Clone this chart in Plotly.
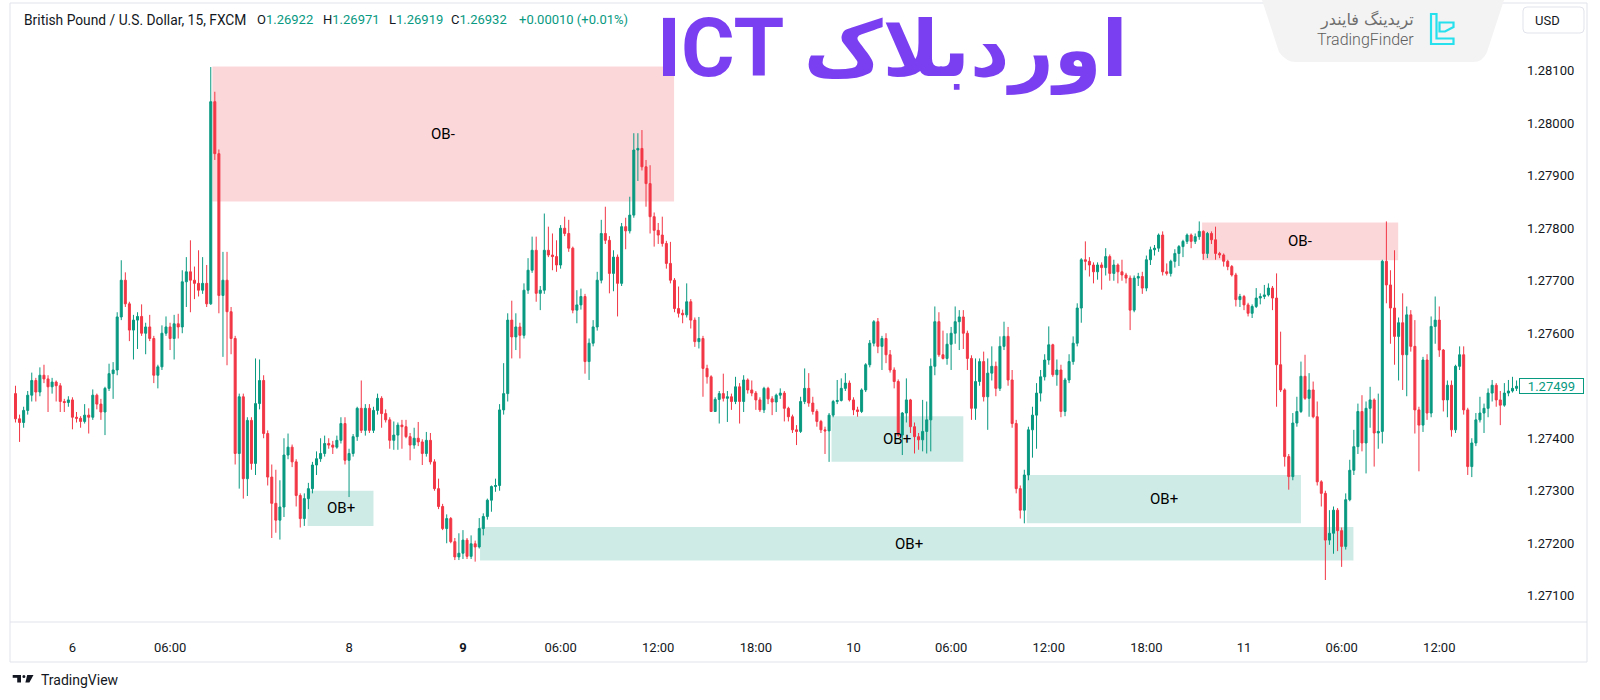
import plotly.graph_objects as go

# ---------------- data (GBP/USD 15m) ----------------
open_ = [
1.27485,1.27437,1.27430,1.27453,1.27482,1.27510,1.27488,1.27520,1.27513,1.27498,
1.27507,1.27500,1.27470,1.27468,1.27473,1.27440,1.27438,1.27432,1.27444,1.27440,
1.27482,1.27465,1.27450,1.27495,1.27523,1.27530,1.27631,1.27701,1.27656,1.27606,
1.27625,1.27632,1.27600,1.27612,1.27590,1.27520,1.27536,1.27600,1.27612,1.27590,
1.27618,1.27612,1.27698,1.27717,1.27701,1.27695,1.27682,1.27695,1.27656,1.28041,
1.27942,1.27672,1.27701,1.27641,1.27590,1.27371,1.27479,1.27323,1.27434,1.27352,
1.27466,1.27510,1.27409,1.27326,1.27276,1.27244,1.27269,1.27368,1.27383,1.27355,
1.27291,1.27247,1.27285,1.27304,1.27349,1.27361,1.27371,1.27390,1.27387,1.27383,
1.27396,1.27428,1.27358,1.27371,1.27403,1.27457,1.27415,1.27457,1.27415,1.27453,
1.27476,1.27447,1.27435,1.27396,1.27406,1.27425,1.27422,1.27403,1.27387,1.27400,
1.27393,1.27371,1.27396,1.27355,1.27304,1.27270,1.27228,1.27247,1.27203,1.27174,
1.27181,1.27206,1.27175,1.27199,1.27193,1.27228,1.27251,1.27282,1.27308,1.27310,
1.27454,1.27485,1.27625,1.27593,1.27612,1.27596,1.27682,1.27720,1.27758,1.27676,
1.27682,1.27758,1.27749,1.27746,1.27730,1.27800,1.27790,1.27762,1.27644,1.27654,
1.27670,1.27546,1.27581,1.27612,1.27701,1.27790,1.27777,1.27714,1.27745,1.27695,
1.27803,1.27795,1.27825,1.27949,1.27952,1.27917,1.27885,1.27822,1.27796,1.27787,
1.27771,1.27733,1.27701,1.27647,1.27638,1.27635,1.27660,1.27625,1.27584,1.27590,
1.27533,1.27517,1.27451,1.27474,1.27485,1.27476,1.27479,1.27470,1.27498,1.27470,
1.27511,1.27492,1.27486,1.27473,1.27454,1.27495,1.27475,1.27469,1.27482,1.27486,
1.27457,1.27441,1.27416,1.27413,1.27470,1.27495,1.27467,1.27451,1.27432,1.27416,
1.27414,1.27444,1.27470,1.27472,1.27495,1.27505,1.27473,1.27454,1.27451,1.27492,
1.27540,1.27581,1.27622,1.27575,1.27590,1.27559,1.27530,1.27508,1.27406,1.27448,
1.27473,1.27422,1.27403,1.27397,1.27413,1.27435,1.27537,1.27622,1.27559,1.27552,
1.27579,1.27600,1.27622,1.27631,1.27600,1.27552,1.27457,1.27508,1.27546,1.27479,
1.27524,1.27537,1.27495,1.27575,1.27594,1.27511,1.27428,1.27304,1.27263,1.27330,
1.27416,1.27444,1.27486,1.27517,1.27549,1.27578,1.27521,1.27530,1.27451,1.27511,
1.27546,1.27581,1.27648,1.27740,1.27737,1.27730,1.27717,1.27730,1.27725,1.27746,
1.27714,1.27730,1.27717,1.27711,1.27705,1.27644,1.27705,1.27708,1.27686,1.27740,
1.27759,1.27762,1.27787,1.27717,1.27714,1.27737,1.27752,1.27765,1.27775,1.27787,
1.27775,1.27784,1.27794,1.27752,1.27790,1.27778,1.27752,1.27749,1.27737,1.27727,
1.27711,1.27664,1.27670,1.27654,1.27638,1.27651,1.27667,1.27670,1.27673,1.27686,
1.27667,1.27540,1.27492,1.27365,1.27327,1.27429,1.27451,1.27518,1.27476,1.27492,
1.27441,1.27317,1.27295,1.27206,1.27219,1.27263,1.27224,1.27194,1.27283,1.27339,
1.27384,1.27451,1.27391,1.27457,1.27473,1.27410,1.27413,1.27737,1.27692,1.27648,
1.27594,1.27620,1.27559,1.27635,1.27575,1.27454,1.27425,1.27549,1.27448,1.27613,
1.27625,1.27568,1.27473,1.27501,1.27416,1.27537,1.27559,1.27454,1.27346,1.27391,
1.27435,1.27448,1.27457,1.27486,1.27501,1.27473,1.27463,1.27486,1.27490,1.27495,
]
high = [
1.27500,1.27445,1.27460,1.27490,1.27525,1.27515,1.27535,1.27540,1.27520,1.27515,
1.27510,1.27505,1.27475,1.27480,1.27478,1.27450,1.27442,1.27465,1.27457,1.27493,
1.27485,1.27475,1.27498,1.27542,1.27545,1.27640,1.27739,1.27716,1.27660,1.27635,
1.27640,1.27655,1.27620,1.27635,1.27595,1.27540,1.27615,1.27632,1.27620,1.27635,
1.27637,1.27720,1.27745,1.27777,1.27727,1.27758,1.27745,1.27730,1.28107,1.28060,
1.27950,1.27755,1.27755,1.27650,1.27595,1.27485,1.27485,1.27440,1.27440,1.27552,
1.27550,1.27520,1.27415,1.27350,1.27340,1.27320,1.27400,1.27409,1.27388,1.27360,
1.27295,1.27295,1.27315,1.27355,1.27375,1.27400,1.27405,1.27400,1.27395,1.27405,
1.27440,1.27440,1.27380,1.27408,1.27460,1.27510,1.27465,1.27465,1.27460,1.27485,
1.27480,1.27455,1.27440,1.27432,1.27430,1.27435,1.27435,1.27410,1.27420,1.27431,
1.27398,1.27412,1.27410,1.27360,1.27323,1.27275,1.27255,1.27250,1.27210,1.27219,
1.27225,1.27210,1.27215,1.27205,1.27248,1.27257,1.27285,1.27310,1.27323,1.27465,
1.27543,1.27638,1.27662,1.27638,1.27620,1.27695,1.27743,1.27784,1.27784,1.27690,
1.27828,1.27803,1.27790,1.27777,1.27806,1.27822,1.27816,1.27765,1.27682,1.27685,
1.27675,1.27590,1.27625,1.27717,1.27816,1.27841,1.27785,1.27758,1.27750,1.27810,
1.27820,1.27860,1.27981,1.27981,1.27987,1.27930,1.27920,1.27830,1.27810,1.27822,
1.27776,1.27774,1.27705,1.27689,1.27645,1.27695,1.27665,1.27630,1.27631,1.27595,
1.27540,1.27520,1.27478,1.27490,1.27523,1.27490,1.27485,1.27517,1.27505,1.27520,
1.27514,1.27510,1.27490,1.27478,1.27498,1.27498,1.27480,1.27485,1.27495,1.27490,
1.27460,1.27445,1.27425,1.27479,1.27533,1.27524,1.27479,1.27455,1.27435,1.27422,
1.27448,1.27473,1.27511,1.27514,1.27524,1.27510,1.27478,1.27460,1.27495,1.27543,
1.27587,1.27625,1.27629,1.27595,1.27600,1.27568,1.27535,1.27512,1.27450,1.27514,
1.27475,1.27430,1.27410,1.27473,1.27470,1.27552,1.27651,1.27640,1.27605,1.27600,
1.27612,1.27651,1.27644,1.27644,1.27605,1.27558,1.27552,1.27552,1.27565,1.27552,
1.27575,1.27546,1.27594,1.27622,1.27612,1.27530,1.27435,1.27310,1.27340,1.27422,
1.27460,1.27505,1.27530,1.27560,1.27613,1.27580,1.27550,1.27540,1.27515,1.27560,
1.27594,1.27657,1.27743,1.27775,1.27745,1.27735,1.27735,1.27735,1.27762,1.27750,
1.27740,1.27733,1.27740,1.27715,1.27710,1.27710,1.27715,1.27717,1.27748,1.27765,
1.27768,1.27790,1.27794,1.27733,1.27740,1.27760,1.27768,1.27778,1.27790,1.27790,
1.27790,1.27813,1.27796,1.27793,1.27794,1.27803,1.27755,1.27752,1.27740,1.27730,
1.27715,1.27675,1.27673,1.27658,1.27655,1.27686,1.27676,1.27692,1.27695,1.27690,
1.27714,1.27603,1.27495,1.27370,1.27448,1.27479,1.27546,1.27559,1.27524,1.27508,
1.27470,1.27320,1.27300,1.27263,1.27270,1.27267,1.27230,1.27295,1.27359,1.27416,
1.27466,1.27482,1.27470,1.27498,1.27476,1.27485,1.27740,1.27813,1.27720,1.27758,
1.27630,1.27676,1.27651,1.27644,1.27625,1.27460,1.27555,1.27560,1.27632,1.27670,
1.27651,1.27570,1.27510,1.27510,1.27540,1.27575,1.27575,1.27458,1.27400,1.27448,
1.27479,1.27466,1.27495,1.27511,1.27505,1.27490,1.27505,1.27511,1.27517,1.27510,
]
low = [
1.27430,1.27393,1.27420,1.27445,1.27470,1.27470,1.27480,1.27505,1.27450,1.27485,
1.27470,1.27450,1.27450,1.27460,1.27417,1.27430,1.27420,1.27428,1.27409,1.27435,
1.27455,1.27435,1.27406,1.27490,1.27475,1.27520,1.27625,1.27650,1.27585,1.27550,
1.27570,1.27595,1.27560,1.27585,1.27505,1.27495,1.27530,1.27595,1.27568,1.27550,
1.27590,1.27600,1.27650,1.27640,1.27665,1.27670,1.27675,1.27650,1.27654,1.27930,
1.27638,1.27555,1.27539,1.27560,1.27350,1.27304,1.27285,1.27290,1.27340,1.27330,
1.27455,1.27400,1.27310,1.27210,1.27220,1.27207,1.27250,1.27360,1.27345,1.27270,
1.27230,1.27233,1.27265,1.27295,1.27330,1.27355,1.27365,1.27380,1.27370,1.27380,
1.27390,1.27350,1.27288,1.27365,1.27395,1.27410,1.27405,1.27410,1.27410,1.27445,
1.27420,1.27430,1.27380,1.27378,1.27378,1.27380,1.27400,1.27358,1.27380,1.27385,
1.27349,1.27365,1.27350,1.27300,1.27265,1.27225,1.27200,1.27200,1.27168,1.27168,
1.27170,1.27170,1.27170,1.27165,1.27190,1.27215,1.27245,1.27260,1.27298,1.27300,
1.27445,1.27470,1.27552,1.27568,1.27552,1.27590,1.27675,1.27715,1.27660,1.27644,
1.27675,1.27745,1.27720,1.27717,1.27723,1.27785,1.27755,1.27638,1.27619,1.27645,
1.27523,1.27511,1.27575,1.27605,1.27695,1.27770,1.27676,1.27680,1.27632,1.27690,
1.27760,1.27790,1.27820,1.27890,1.27910,1.27841,1.27790,1.27765,1.27770,1.27765,
1.27723,1.27695,1.27640,1.27630,1.27619,1.27630,1.27609,1.27574,1.27571,1.27479,
1.27504,1.27450,1.27450,1.27428,1.27470,1.27431,1.27454,1.27465,1.27428,1.27450,
1.27485,1.27480,1.27454,1.27450,1.27448,1.27465,1.27444,1.27450,1.27475,1.27432,
1.27432,1.27410,1.27387,1.27410,1.27465,1.27460,1.27445,1.27422,1.27410,1.27370,
1.27355,1.27440,1.27465,1.27470,1.27490,1.27470,1.27444,1.27441,1.27448,1.27488,
1.27535,1.27575,1.27562,1.27530,1.27543,1.27525,1.27495,1.27403,1.27368,1.27430,
1.27410,1.27371,1.27378,1.27375,1.27371,1.27375,1.27520,1.27555,1.27550,1.27540,
1.27530,1.27580,1.27568,1.27570,1.27530,1.27435,1.27435,1.27500,1.27470,1.27416,
1.27510,1.27480,1.27490,1.27568,1.27500,1.27420,1.27295,1.27247,1.27238,1.27320,
1.27363,1.27380,1.27470,1.27510,1.27540,1.27517,1.27500,1.27440,1.27442,1.27505,
1.27540,1.27575,1.27620,1.27720,1.27708,1.27695,1.27702,1.27683,1.27710,1.27700,
1.27700,1.27695,1.27700,1.27695,1.27606,1.27640,1.27690,1.27675,1.27680,1.27730,
1.27748,1.27755,1.27710,1.27710,1.27708,1.27725,1.27728,1.27745,1.27770,1.27762,
1.27770,1.27778,1.27740,1.27743,1.27770,1.27740,1.27743,1.27727,1.27720,1.27708,
1.27651,1.27650,1.27644,1.27632,1.27629,1.27648,1.27655,1.27665,1.27670,1.27644,
1.27460,1.27488,1.27346,1.27302,1.27320,1.27422,1.27448,1.27473,1.27441,1.27438,
1.27310,1.27270,1.27130,1.27197,1.27180,1.27185,1.27155,1.27188,1.27280,1.27330,
1.27370,1.27375,1.27333,1.27420,1.27346,1.27380,1.27390,1.27657,1.27580,1.27540,
1.27510,1.27492,1.27480,1.27565,1.27409,1.27337,1.27412,1.27435,1.27440,1.27580,
1.27555,1.27451,1.27440,1.27403,1.27410,1.27530,1.27445,1.27330,1.27326,1.27385,
1.27430,1.27410,1.27440,1.27470,1.27460,1.27425,1.27460,1.27480,1.27487,1.27490,
]
close = [
1.27437,1.27430,1.27453,1.27482,1.27510,1.27488,1.27520,1.27513,1.27498,1.27507,
1.27500,1.27470,1.27468,1.27473,1.27440,1.27438,1.27432,1.27444,1.27440,1.27482,
1.27465,1.27450,1.27495,1.27523,1.27530,1.27631,1.27701,1.27656,1.27606,1.27625,
1.27632,1.27600,1.27612,1.27590,1.27520,1.27536,1.27600,1.27612,1.27590,1.27618,
1.27612,1.27698,1.27717,1.27701,1.27695,1.27682,1.27695,1.27656,1.28041,1.27942,
1.27672,1.27701,1.27641,1.27590,1.27371,1.27479,1.27323,1.27434,1.27352,1.27466,
1.27510,1.27409,1.27326,1.27276,1.27244,1.27269,1.27368,1.27383,1.27355,1.27291,
1.27247,1.27285,1.27304,1.27349,1.27361,1.27371,1.27390,1.27387,1.27383,1.27396,
1.27428,1.27358,1.27371,1.27403,1.27457,1.27415,1.27457,1.27415,1.27453,1.27476,
1.27447,1.27435,1.27396,1.27406,1.27425,1.27422,1.27403,1.27387,1.27400,1.27393,
1.27371,1.27396,1.27355,1.27304,1.27270,1.27228,1.27247,1.27203,1.27174,1.27181,
1.27206,1.27175,1.27199,1.27193,1.27228,1.27251,1.27282,1.27308,1.27310,1.27454,
1.27485,1.27625,1.27593,1.27612,1.27596,1.27682,1.27720,1.27758,1.27676,1.27682,
1.27758,1.27749,1.27746,1.27730,1.27800,1.27790,1.27762,1.27644,1.27654,1.27670,
1.27546,1.27581,1.27612,1.27701,1.27790,1.27777,1.27714,1.27745,1.27695,1.27803,
1.27795,1.27825,1.27949,1.27952,1.27917,1.27885,1.27822,1.27796,1.27787,1.27771,
1.27733,1.27701,1.27647,1.27638,1.27635,1.27660,1.27625,1.27584,1.27590,1.27533,
1.27517,1.27451,1.27474,1.27485,1.27476,1.27479,1.27470,1.27498,1.27470,1.27511,
1.27492,1.27486,1.27473,1.27454,1.27495,1.27475,1.27469,1.27482,1.27486,1.27457,
1.27441,1.27416,1.27413,1.27470,1.27495,1.27467,1.27451,1.27432,1.27416,1.27414,
1.27444,1.27470,1.27472,1.27495,1.27505,1.27473,1.27454,1.27451,1.27492,1.27540,
1.27581,1.27622,1.27575,1.27590,1.27559,1.27530,1.27508,1.27406,1.27448,1.27473,
1.27422,1.27403,1.27397,1.27413,1.27435,1.27537,1.27622,1.27559,1.27552,1.27579,
1.27600,1.27622,1.27631,1.27600,1.27552,1.27457,1.27508,1.27546,1.27479,1.27524,
1.27537,1.27495,1.27575,1.27594,1.27511,1.27428,1.27304,1.27263,1.27330,1.27416,
1.27444,1.27486,1.27517,1.27549,1.27578,1.27521,1.27530,1.27451,1.27511,1.27546,
1.27581,1.27648,1.27740,1.27737,1.27730,1.27717,1.27730,1.27725,1.27746,1.27714,
1.27730,1.27717,1.27711,1.27705,1.27644,1.27705,1.27708,1.27686,1.27740,1.27759,
1.27762,1.27787,1.27717,1.27714,1.27737,1.27752,1.27765,1.27775,1.27787,1.27775,
1.27784,1.27794,1.27752,1.27790,1.27778,1.27752,1.27749,1.27737,1.27727,1.27711,
1.27664,1.27670,1.27654,1.27638,1.27651,1.27667,1.27670,1.27673,1.27686,1.27667,
1.27540,1.27492,1.27365,1.27327,1.27429,1.27451,1.27518,1.27476,1.27492,1.27441,
1.27317,1.27295,1.27206,1.27219,1.27263,1.27224,1.27194,1.27283,1.27339,1.27384,
1.27451,1.27391,1.27457,1.27473,1.27410,1.27413,1.27737,1.27692,1.27648,1.27594,
1.27620,1.27559,1.27635,1.27575,1.27454,1.27425,1.27549,1.27448,1.27613,1.27625,
1.27568,1.27473,1.27501,1.27416,1.27537,1.27559,1.27454,1.27346,1.27391,1.27435,
1.27448,1.27457,1.27486,1.27501,1.27473,1.27463,1.27486,1.27490,1.27495,1.27499,
]

n = min(len(open_), len(high), len(low), len(close))
bar_index = list(range(n))
hi = [max(high[i], open_[i], close[i]) for i in range(n)]
lo = [min(low[i], open_[i], close[i]) for i in range(n)]

time_tick_pos = [14, 38, 82, 110, 134, 158, 182, 206, 230, 254, 278, 302, 326, 350]
time_tick_text = ["6", "06:00", "8", "<b>9</b>", "06:00", "12:00", "18:00",
                  "10", "06:00", "12:00", "18:00", "11", "06:00", "12:00"]
price_ticks = [1.271, 1.272, 1.273, 1.274, 1.276, 1.277, 1.278, 1.279, 1.280, 1.281]
price_tick_text = ["%.5f" % v for v in price_ticks]

# order-block zones
ob_start = [48.4, 71.8, 114.2, 200.6, 248.6, 291.7]
ob_end = [161.9, 88.0, 328.9, 233.0, 316.0, 339.9]
ob_top = [1.28108, 1.27300, 1.27231, 1.27442, 1.27330, 1.27811]
ob_bottom = [1.27851, 1.27233, 1.27167, 1.27355, 1.27238, 1.27739]
ob_label = ["OB-", "OB+", "OB+", "OB+", "OB+", "OB-"]
ob_label_x = [105.2, 79.9, 219.6, 216.8, 282.3, 315.8]

last_price = 1.27499
header_groups = [
    ("British Pound / U.S. Dollar, 15, FXCM", ""),
    ("O", "1.26922"),
    ("H", "1.26971"),
    ("L", "1.26919"),
    ("C", "1.26932"),
    ("", "+0.00010 (+0.01%)"),
]
header_x = [21.7, 255, 321, 386.5, 449, 516.7]

# ---------------- styling ----------------
GREEN = "#089981"
RED = "#F23645"
TXT = "#131722"
BORDER = "#E0E3EB"
W, H = 1600, 700
L, R, T, B = 10, 1519, 3, 622   # plot area in pixels


def px(x):
    return (x - L) / (R - L)


def py(y):
    return (B - y) / (B - T)


fig = go.Figure()
fig.add_trace(go.Candlestick(
    x=bar_index, open=open_[:n], high=hi, low=lo, close=close[:n],
    increasing=dict(line=dict(color=GREEN, width=1), fillcolor=GREEN),
    decreasing=dict(line=dict(color=RED, width=1), fillcolor=RED),
    whiskerwidth=0, hoverinfo="skip", showlegend=False,
))

shapes = []
annotations = []

for s, e, t, b, lab, lx in zip(ob_start, ob_end, ob_top, ob_bottom, ob_label, ob_label_x):
    col = "rgba(242,54,69,0.2)" if lab == "OB-" else "rgba(8,153,129,0.2)"
    shapes.append(dict(type="rect", xref="x", yref="y", x0=s, x1=e, y0=b, y1=t,
                       fillcolor=col, line=dict(width=0), layer="below"))
    annotations.append(dict(x=lx, y=(t + b) / 2, xref="x", yref="y", text=lab,
                            showarrow=False, font=dict(family="Roboto", size=15, color="#000000")))

# frame and separators
shapes.append(dict(type="rect", xref="paper", yref="paper", x0=px(10), x1=px(1587),
                   y0=py(662), y1=py(3), line=dict(color=BORDER, width=1), layer="above"))
shapes.append(dict(type="line", xref="paper", yref="paper", x0=px(10), x1=px(1587),
                   y0=py(622), y1=py(622), line=dict(color=BORDER, width=1), layer="above"))

# TradingFinder tab
tab = ("M {a},{b} L {c},{b} L {d},{e} Q {f},{g} {h},{g} L {i},{g} Q {j},{g} {k},{e} Z").format(
    a=px(1262), b=py(0), c=px(1504), d=px(1487), e=py(52), f=px(1483), g=py(62),
    h=px(1473), i=px(1296), j=px(1286), k=px(1279))
shapes.append(dict(type="path", xref="paper", yref="paper", path=tab,
                   fillcolor="#F3F3F3", line=dict(width=0), layer="above"))

# TradingFinder icon (cyan outline)
icon1 = "M {x0},{y0} L {x1},{y0} L {x1},{y1} L {x2},{y1} L {x2},{y2} L {x0},{y2} Z".format(
    x0=px(1431), x1=px(1436.5), x2=px(1453.5), y0=py(14), y1=py(38.5), y2=py(44))
icon2 = "M {a},{b} L {c},{b} L {c},{d} L {e},{f} L {a},{f} Z".format(
    a=px(1439.5), b=py(22.5), c=px(1453.5), d=py(27), e=px(1445), f=py(31.5))
for pth in (icon1, icon2):
    shapes.append(dict(type="path", xref="paper", yref="paper", path=pth,
                       fillcolor="rgba(0,0,0,0)", line=dict(color="#26E0EE", width=2.2), layer="above"))

# USD box
usd = ("M {a},{t} L {b},{t} Q {c},{t} {c},{t2} L {c},{b2} Q {c},{bt} {b},{bt} "
       "L {a},{bt} Q {d},{bt} {d},{b2} L {d},{t2} Q {d},{t} {a},{t} Z").format(
    a=px(1527), b=px(1580), c=px(1584), d=px(1523), t=py(7), t2=py(11), b2=py(29), bt=py(33))
shapes.append(dict(type="path", xref="paper", yref="paper", path=usd,
                   fillcolor="#FFFFFF", line=dict(color=BORDER, width=1), layer="above"))

# TradingView logo mark
shapes.append(dict(type="rect", xref="paper", yref="paper", x0=px(12.7), x1=px(21), y0=py(677.8), y1=py(675),
                   fillcolor=TXT, line=dict(width=0)))
shapes.append(dict(type="rect", xref="paper", yref="paper", x0=px(17.2), x1=px(21), y0=py(682.5), y1=py(675),
                   fillcolor=TXT, line=dict(width=0)))
shapes.append(dict(type="circle", xref="paper", yref="paper", x0=px(22.4), x1=px(25.4), y0=py(678), y1=py(675),
                   fillcolor=TXT, line=dict(width=0)))
tvslash = "M {a},{t} L {b},{t} L {c},{bt} L {d},{bt} Z".format(
    a=px(27.2), b=px(33.5), c=px(29.4), d=px(25.4), t=py(675), bt=py(682.5))
shapes.append(dict(type="path", xref="paper", yref="paper", path=tvslash,
                   fillcolor=TXT, line=dict(width=0)))

# header texts
for k, ((lab, val), hx) in enumerate(zip(header_groups, header_x)):
    if lab and val:
        txt = lab + "<span style='color:%s'>%s</span>" % (GREEN, val)
        col = TXT
    elif lab:
        txt, col = lab, TXT
    else:
        txt, col = val, GREEN
    annotations.append(dict(x=px(hx), y=py(20), xref="paper", yref="paper", text=txt,
                            xanchor="left", yanchor="middle", showarrow=False,
                            font=dict(family="Roboto", size=13.8 if k == 0 else 13, color=col)))

# title
title_text = ("<b><span style='font-family:Roboto;font-size:82px'>ICT</span> "
              "<span style='font-family:DejaVu Sans;font-size:77px'>اوردبلاک</span></b>")
annotations.append(dict(x=px(892), y=py(48), xref="paper", yref="paper",
                        text=title_text, showarrow=False, xanchor="center", yanchor="middle",
                        font=dict(family="Roboto, DejaVu Sans", size=78, color="#7B3FF2")))

# TradingFinder texts
annotations.append(dict(x=px(1367), y=py(20), xref="paper", yref="paper", text="تریدینگ فایندر",
                        showarrow=False, xanchor="center", yanchor="middle",
                        font=dict(family="DejaVu Sans", size=16, color="#6E6E6E")))
annotations.append(dict(x=px(1365), y=py(39.5), xref="paper", yref="paper", text="TradingFinder",
                        showarrow=False, xanchor="center", yanchor="middle",
                        font=dict(family="Roboto", size=16, weight=300, color="#5E5E5E")))
# USD
annotations.append(dict(x=px(1547), y=py(20.5), xref="paper", yref="paper", text="USD",
                        showarrow=False, xanchor="center", yanchor="middle",
                        font=dict(family="Roboto", size=13, color=TXT)))
# last price label
annotations.append(dict(x=px(1551), y=last_price, xref="paper", yref="y", text="%.5f" % last_price,
                        showarrow=False, xanchor="center", yanchor="middle",
                        bgcolor="#FFFFFF", bordercolor=GREEN, borderwidth=1, borderpad=1,
                        width=61, height=12, font=dict(family="Roboto", size=13, color=GREEN)))
# TradingView word
annotations.append(dict(x=px(39), y=py(680), xref="paper", yref="paper", text="TradingView",
                        showarrow=False, xanchor="left", yanchor="middle",
                        font=dict(family="Roboto", size=14, color=TXT)))

fig.update_layout(
    width=W, height=H,
    margin=dict(l=L, r=W - R, t=T, b=H - B),
    paper_bgcolor="#FFFFFF", plot_bgcolor="#FFFFFF",
    showlegend=False, hovermode=False,
    shapes=shapes, annotations=annotations,
    xaxis=dict(range=[-1.35, 369.6], tickvals=time_tick_pos, ticktext=time_tick_text,
               showgrid=False, zeroline=False, showline=False, ticks="",
               tickfont=dict(family="Roboto", size=13, color=TXT),
               ticklabelstandoff=16, rangeslider=dict(visible=False), fixedrange=True),
    yaxis=dict(range=[1.2705, 1.28229], side="right", tickvals=price_ticks, ticktext=price_tick_text,
               showgrid=False, zeroline=False, showline=False, ticks="",
               tickfont=dict(family="Roboto", size=13, color=TXT),
               ticklabelstandoff=7, fixedrange=True),
)

fig.write_html("out.html", config={"displayModeBar": False},
               post_script="document.body.style.margin='0px';document.body.style.overflow='hidden';")
